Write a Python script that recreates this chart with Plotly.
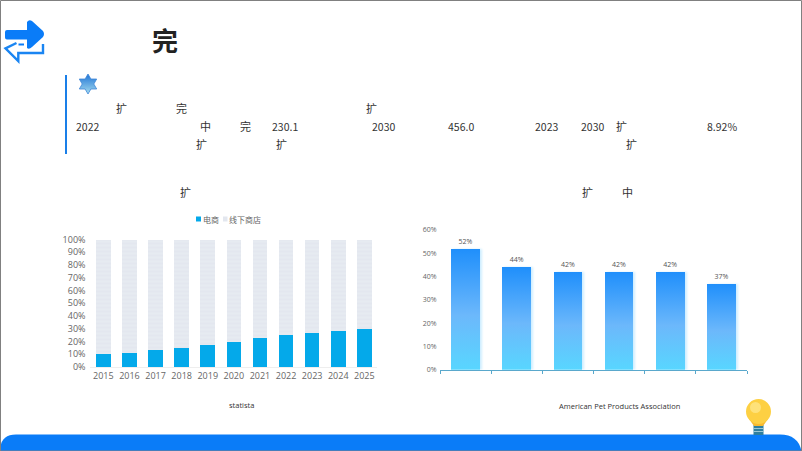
"""Slide : part du e-commerce et barres degradees, texte conserve tel quel."""
import plotly.graph_objects as go

YEARS = ["2015", "2016", "2017", "2018", "2019", "2020", "2021", "2022", "2023", "2024", "2025"]
ONLINE = [10, 11, 13, 15, 17, 20, 23, 25, 27, 28, 30]
OFFLINE = [90, 89, 87, 85, 83, 80, 77, 75, 73, 72, 70]

GROUPS = ["a", "b", "c", "d", "e", "f"]
SHARES = [52, 44, 42, 42, 42, 37]

TEXT_ROWS = [
    ("扩", 121, 108), ("完", 181, 108), ("扩", 371, 108),
    ("2022", 87, 126), ("中", 205, 126), ("完", 245, 126), ("230.1", 285, 126),
    ("2030", 383, 126), ("456.0", 461, 126), ("2023", 546, 126), ("2030", 592, 126),
    ("扩", 621, 126), ("8.92%", 722, 126),
    ("扩", 201, 144), ("扩", 281, 144), ("扩", 631, 144),
    ("扩", 185, 192), ("扩", 587, 192), ("中", 627, 192),
]

W, H = 802, 451
FONT = "Noto Sans CJK SC"
BLUE = "#0a7cf8"
ONLINE_COLOR = "#04a9ea"
OFFLINE_COLOR = "#e3e7ef"


def dom_x(a, b):
    return [a / W, b / W]


def dom_y(top, bottom):
    return [1 - bottom / H, 1 - top / H]


fig = go.Figure()

# fond decoratif en coordonnees pixel
fig.add_trace(go.Scatter(
    x=[88, 90.9, 96.7, 93.8, 96.7, 90.9, 88, 85.1, 79.3, 82.2, 79.3, 85.1, 88],
    y=[74, 79, 79, 84, 89, 89, 94, 89, 89, 84, 79, 79, 74],
    xaxis="x3", yaxis="y3", mode="lines", fill="toself",
    line=dict(color="#3f86d8", width=0.8),
    fillgradient=dict(type="vertical", colorscale=[[0, "#a5dcee"], [1, "#1f74d6"]]),
    hoverinfo="skip", showlegend=False,
))

fig.add_trace(go.Bar(
    x=YEARS, y=ONLINE, name="电商", marker=dict(color=ONLINE_COLOR, line_width=0),
))
fig.add_trace(go.Bar(
    x=YEARS, y=OFFLINE, name="线下商店",
    marker=dict(
        color=OFFLINE_COLOR, line_width=0,
        pattern=dict(shape="-", bgcolor=OFFLINE_COLOR, fgcolor="#edf0f5", size=4, solidity=0.4),
    ),
))
fig.add_trace(go.Bar(
    x=GROUPS, y=SHARES, xaxis="x2", yaxis="y2", showlegend=False,
    marker=dict(color="#2f9cfb", line_width=0),
    text=[f"{v}%" for v in SHARES], textposition="outside", cliponaxis=False,
    textfont=dict(size=7, color="#555555", family="Open Sans"),
))

shapes = [
    dict(type="path", path="M0.5,451 L0.5,447 Q2,434.5 16,434.5 L780,434.5 Q798,434.5 801.5,451 Z",
         fillcolor=BLUE, line_width=0),
    dict(type="rect", x0=65, x1=67, y0=75, y1=154, fillcolor="#1a7fe8", line_width=0),
    # fleche pleine
    dict(type="path",
         path="M7,30 L27,30 L27,22 Q29,19 32,21 L43,31 Q45,34 43,37 L32,47 Q29,50 27,48 "
              "L27,39.5 L7,39.5 Q5,39.5 5,37.5 L5,32 Q5,30 7,30 Z",
         fillcolor=BLUE, line_width=0),
    # fleche contour
    dict(type="path",
         path="M16.5,43 L5.5,48.3 L18.3,61 L18.3,53 L43,53 L43,44",
         line=dict(color="#1a85f2", width=2.4)),
    dict(type="line", x0=18.5, x1=24, y0=44.5, y1=44.5, line=dict(color=BLUE, width=2)),
    # legende compacte : le carre natif de plotly est trop grand
    dict(type="rect", x0=196, x1=201, y0=216.5, y1=221.5, fillcolor=ONLINE_COLOR, line_width=0),
    dict(type="rect", x0=223, x1=227.5, y0=216.5, y1=221.5, fillcolor=OFFLINE_COLOR, line_width=0),
    # ampoule
    dict(type="rect", x0=753.5, x1=763.5, y0=425, y1=435, fillcolor="#2f7f9f", line_width=0),
    dict(type="line", x0=753.5, x1=763.5, y0=428.5, y1=428.5, line=dict(color="#9cc8d6", width=1)),
    dict(type="line", x0=753.5, x1=763.5, y0=431.5, y1=431.5, line=dict(color="#9cc8d6", width=1)),
    dict(type="path", path="M749,419 L754,426 L763,426 L768,419 Z", fillcolor="#f8b92f", line_width=0),
    dict(type="circle", x0=746, x1=771, y0=399, y1=424, fillcolor="#fdd043", line_width=0),
    dict(type="circle", x0=750, x1=761, y0=402, y1=413, fillcolor="#fee27a", line_width=0),
    # cadre
    dict(type="rect", x0=0.5, x1=801.5, y0=0.5, y1=451, line=dict(color="#808080", width=1)),
]
for s in shapes:
    s.update(xref="x3", yref="y3", layer="below")

annotations = [
    dict(text="完", x=165, y=39.5, font=dict(size=26, color="#222222", weight="bold")),
    dict(text="statista", x=241, y=405, font=dict(size=7.5, color="#333333", family="Open Sans")),
    dict(text="American Pet Products Association", x=619, y=406,
         font=dict(size=7.5, color="#333333", family="Open Sans")),
    dict(text="电商", x=210.5, y=219, font=dict(size=8, color="#666666")),
    dict(text="线下商店", x=245, y=219, font=dict(size=8, color="#666666")),
]
for txt, px, py in TEXT_ROWS:
    size = 10.5 if txt.isascii() else 11
    annotations.append(dict(text=txt, x=px, y=py, font=dict(size=size, color="#333333")))
for a in annotations:
    a.update(xref="x3", yref="y3", showarrow=False, xanchor="center", yanchor="middle")

fig.update_layout(
    width=W, height=H, autosize=False,
    margin=dict(l=0, r=0, t=0, b=0),
    paper_bgcolor="white", plot_bgcolor="rgba(0,0,0,0)",
    font=dict(family=FONT),
    barmode="stack", bargap=0.44, showlegend=False,
    xaxis=dict(
        domain=dom_x(90.3, 377.4), type="category", showgrid=False, automargin=False,
        showline=True, linecolor="#eeeeee", ticks="",
        tickfont=dict(size=9, color="#666666", family="Open Sans"),
    ),
    yaxis=dict(
        domain=dom_y(239.5, 367), range=[0, 100], dtick=10, ticksuffix="%", automargin=False,
        showgrid=False, zeroline=False, showline=False,
        ticks="outside", ticklen=2, tickcolor="rgba(0,0,0,0)",
        tickfont=dict(size=9, color="#666666", family="Open Sans"),
    ),
    xaxis2=dict(
        domain=dom_x(440, 747), type="category", anchor="y2", showgrid=False, automargin=False,
        showticklabels=False, showline=True, linecolor="#5aa8cc", linewidth=1,
        ticks="outside", tickson="boundaries", ticklen=3, tickcolor="#5aa8cc",
    ),
    yaxis2=dict(
        domain=dom_y(230, 369.7), range=[0, 60], dtick=10, ticksuffix="%", anchor="x2",
        showgrid=False, zeroline=False, showline=False, automargin=False,
        ticks="outside", ticklen=1, tickcolor="rgba(0,0,0,0)",
        tickfont=dict(size=7, color="#666666", family="Open Sans"),
    ),
    xaxis3=dict(domain=[0, 1], range=[0, W], visible=False, fixedrange=True, anchor="y3", automargin=False),
    yaxis3=dict(domain=[0, 1], range=[H, 0], visible=False, fixedrange=True, anchor="x3", automargin=False),
    shapes=shapes,
    annotations=annotations,
)

# plotly ne fait pas de degrade sur les barres : on le pose en SVG apres le rendu
POST = """
document.body.style.margin = '0';
var gd = document.getElementById('{plot_id}');
var ns = 'http://www.w3.org/2000/svg';
var grad = document.createElementNS(ns, 'linearGradient');
grad.setAttribute('id', 'barfade');
grad.setAttribute('x1', '0'); grad.setAttribute('y1', '0');
grad.setAttribute('x2', '0'); grad.setAttribute('y2', '1');
[['0', '#1f8ffb'], ['0.55', '#6cb8fb'], ['1', '#58d6ff']].forEach(function (s) {
  var stop = document.createElementNS(ns, 'stop');
  stop.setAttribute('offset', s[0]);
  stop.setAttribute('stop-color', s[1]);
  grad.appendChild(stop);
});
gd.querySelector('.main-svg defs').appendChild(grad);
gd.querySelectorAll('.x2y2 .barlayer .point path').forEach(function (p) {
  p.style.fill = 'url(#barfade)';
  p.style.filter = 'drop-shadow(2px 0 1px #cfeeff)';
});
"""

fig.write_html("out.html", post_script=POST, config={"displayModeBar": False})
